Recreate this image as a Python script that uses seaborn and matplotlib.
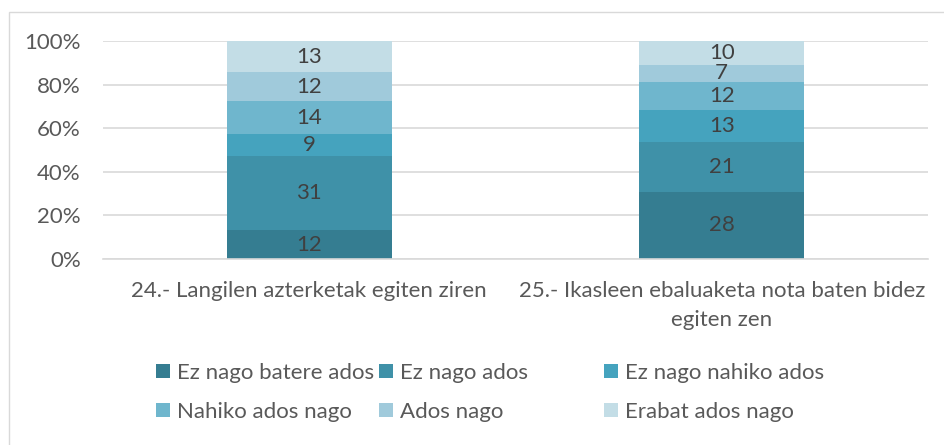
import numpy as np
import pandas as pd
import seaborn as sns
import matplotlib.pyplot as plt
from matplotlib.patches import Patch, Rectangle

sns.set_theme(style="white")
plt.rcParams['font.family'] = ['Lato', 'DejaVu Sans']

questions = ["24.- Langilen azterketak egiten ziren",
             "25.- Ikasleen ebaluaketa nota baten bidez\negiten zen"]
answers = ["Ez nago batere ados", "Ez nago ados", "Ez nago nahiko ados",
           "Nahiko ados nago", "Ados nago", "Erabat ados nago"]
q24 = [12, 31, 9, 14, 12, 13]
q25 = [28, 21, 13, 12, 7, 10]
colors = ["#357D91", "#3F91A8", "#45A3BE", "#6FB6CD", "#A0CADB", "#C3DDE6"]
textColor = "#595959"
W, H = 944, 445

counts = np.array([q24, q25], dtype=float)
pct = counts / counts.sum(axis=1, keepdims=True) * 100
cum = pct.cumsum(axis=1)

fig = plt.figure(figsize=(W / 100, H / 100), dpi=100)
ax = fig.add_axes([103 / W, 1 - 259 / H, 825 / W, 218 / H])

# stacked bars: draw cumulative totals from the top down
for i in reversed(range(len(answers))):
    df = pd.DataFrame({"q": questions, "v": cum[:, i]})
    sns.barplot(data=df, x="q", y="v", ax=ax, color=colors[i], width=0.40,
                saturation=1, edgecolor="none", linewidth=0, zorder=2)

for qi in range(len(questions)):
    for i in range(len(answers)):
        mid = cum[qi, i] - pct[qi, i] / 2
        ax.text(qi, mid, f"{int(counts[qi, i])}", ha="center", va="center",
                fontsize=16, color="#404040", zorder=3)

ax.set_ylim(0, 100)
ax.set_xlim(-0.5, 1.5)
ax.set_yticks(np.arange(0, 101, 20))
ax.set_yticklabels([f"{t}%" for t in range(0, 101, 20)])
ax.yaxis.grid(True, color="#D9D9D9", linewidth=1.2, zorder=0)
ax.set_axisbelow(True)
for s in ["top", "right", "left"]:
    ax.spines[s].set_visible(False)
ax.spines["bottom"].set_color("#D9D9D9")
ax.spines["bottom"].set_linewidth(1.2)
ax.tick_params(axis="y", length=0, labelsize=16, colors=textColor, pad=16)
ax.tick_params(axis="x", length=0, labelsize=16, colors=textColor, pad=16)
for lbl in ax.get_xticklabels():
    lbl.set_linespacing(1.55)
ax.set_xlabel("")
ax.set_ylabel("")

# legend: 3 equal columns, filled row by row
colX = [156, 379, 604]
rowY = [373, 412]
for i, (name, c) in enumerate(zip(answers, colors)):
    x = colX[i % 3] / W
    y = 1 - rowY[i // 3] / H
    fig.legend([Patch(facecolor=c, edgecolor="none")], [name],
               loc="center left", bbox_to_anchor=(x, y), frameon=False,
               fontsize=16, labelcolor=textColor, borderpad=0, borderaxespad=0,
               handlelength=0.63, handleheight=0.63, handletextpad=0.3)

fig.patches.append(Rectangle((9 / W, -0.1), 1.2, 1 - 12 / H + 0.1,
                             transform=fig.transFigure, fill=False,
                             edgecolor="#D9D9D9", linewidth=1))

fig.savefig("out.png", dpi=100)
